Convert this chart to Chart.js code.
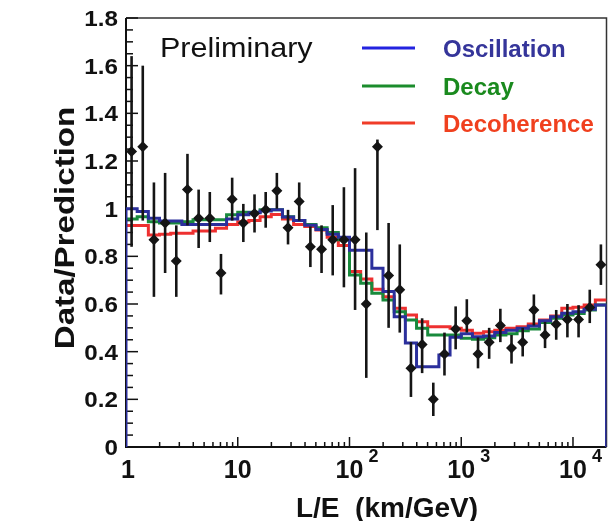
<!DOCTYPE html>
<html>
<head>
<meta charset="utf-8">
<script src="https://cdn.jsdelivr.net/npm/chart.js@4"></script>
<style>
  html, body { margin: 0; padding: 0; background: #fff; }
  #wrap { width: 612px; height: 521px; }
</style>
</head>
<body>
<div id="wrap"><canvas id="myChart" width="612" height="521"></canvas></div>
<script>
// bin edges of the L/E histograms (km/GeV)
var binEdges = [1, 1.259, 1.585, 1.995, 2.512, 3.162, 3.981, 5.012, 6.310, 7.943,
  10, 12.59, 15.85, 19.95, 25.12, 31.62, 39.81, 50.12, 63.10, 79.43,
  100, 125.9, 158.5, 199.5, 251.2, 316.2, 398.1, 501.2, 631.0, 794.3,
  1000, 1259, 1585, 1995, 2512, 3162, 3981, 5012, 6310, 7943,
  10000, 12590, 15850, 19950];

// expectation / prediction per bin
var oscillation = [1.00, 0.988, 0.96, 0.948, 0.948, 0.934, 0.934, 0.934, 0.934, 0.957,
  0.975, 0.983, 0.99, 0.995, 0.965, 0.95, 0.93, 0.913, 0.893, 0.88,
  0.826, 0.826, 0.75, 0.652, 0.547, 0.436, 0.337, 0.337, 0.386, 0.46,
  0.475, 0.463, 0.466, 0.48, 0.49, 0.498, 0.508, 0.53, 0.547, 0.561,
  0.568, 0.578, 0.596];
var decay = [0.957, 0.966, 0.945, 0.94, 0.94, 0.945, 0.953, 0.953, 0.953, 0.974,
  0.985, 0.985, 0.995, 0.995, 0.966, 0.95, 0.934, 0.92, 0.90, 0.87,
  0.722, 0.687, 0.645, 0.617, 0.568, 0.533, 0.498, 0.47, 0.47, 0.47,
  0.456, 0.452, 0.458, 0.47, 0.475, 0.488, 0.495, 0.522, 0.54, 0.554,
  0.56, 0.575, 0.596];
var decoherence = [0.929, 0.929, 0.89, 0.893, 0.897, 0.897, 0.906, 0.906, 0.918, 0.934,
  0.945, 0.95, 0.966, 0.976, 0.957, 0.934, 0.925, 0.91, 0.88, 0.845,
  0.736, 0.705, 0.662, 0.63, 0.582, 0.554, 0.526, 0.505, 0.505, 0.498,
  0.49, 0.477, 0.484, 0.49, 0.498, 0.505, 0.516, 0.533, 0.55, 0.582,
  0.586, 0.596, 0.617];

// data points
var pointLE = [1.122, 1.413, 1.778, 2.239, 2.818, 3.548, 4.467, 5.623, 7.079, 8.913,
  11.22, 14.13, 17.78, 22.39, 28.18, 35.48, 44.67, 56.23, 70.79, 89.13,
  112.2, 141.3, 177.8, 223.9, 281.8, 354.8, 446.7, 562.3, 707.9, 891.3,
  1122, 1413, 1778, 2239, 2818, 3548, 4467, 5623, 7079, 8913,
  11220, 14130, 17780];
var ratio = [1.24, 1.26, 0.87, 0.94, 0.78, 1.08, 0.96, 0.96, 0.73, 1.04,
  0.94, 0.98, 0.995, 1.075, 0.92, 1.03, 0.84, 0.83, 0.87, 0.87,
  0.87, 0.60, 1.26, 0.72, 0.66, 0.33, 0.43, 0.20, 0.39, 0.495,
  0.53, 0.39, 0.44, 0.51, 0.415, 0.44, 0.575, 0.47, 0.515, 0.535,
  0.535, 0.585, 0.765];
var errLow = [0.84, 0.95, 0.63, 0.73, 0.63, 0.93, 0.835, 0.86, 0.64, 0.95,
  0.86, 0.90, 0.92, 1.00, 0.85, 0.95, 0.755, 0.73, 0.72, 0.67,
  0.575, 0.29, 0.91, 0.50, 0.48, 0.21, 0.31, 0.13, 0.30, 0.41,
  0.48, 0.33, 0.37, 0.44, 0.35, 0.38, 0.51, 0.415, 0.45, 0.46,
  0.46, 0.52, 0.68];
var errHigh = [1.64, 1.60, 1.11, 1.15, 0.93, 1.23, 1.08, 1.07, 0.81, 1.13,
  1.02, 1.06, 1.07, 1.15, 0.995, 1.11, 0.925, 0.93, 1.015, 1.09,
  1.17, 0.90, 1.29, 0.94, 0.85, 0.44, 0.54, 0.27, 0.48, 0.59,
  0.62, 0.46, 0.50, 0.58, 0.47, 0.50, 0.64, 0.525, 0.575, 0.60,
  0.595, 0.66, 0.85];

// axis ticks
var yTicks = [0, 0.2, 0.4, 0.6, 0.8, 1, 1.2, 1.4, 1.6, 1.8];
var yTickLabels = ['0', '0.2', '0.4', '0.6', '0.8', '1', '1.2', '1.4', '1.6', '1.8'];
var xTicks = [1, 10, 100, 1000, 10000];
var xTickBase = ['1', '10', '10', '10', '10'];
var xTickExp = ['', '', '2', '3', '4'];

var legendNames = ['Oscillation', 'Decay', 'Decoherence'];
var legendLine = ['#2323e0', '#1b8c2c', '#f03c28'];
var legendText = ['#35359a', '#1a8a1e', '#f0401e'];

function histData(vals, closeToZero) {
  var d = [];
  if (closeToZero) d.push({ x: binEdges[0], y: 0 });
  for (var i = 0; i < vals.length; i++) d.push({ x: binEdges[i], y: vals[i] });
  d.push({ x: binEdges[vals.length], y: vals[vals.length - 1] });
  if (closeToZero) d.push({ x: binEdges[vals.length], y: 0 });
  return d;
}

var points = pointLE.map(function (x, i) { return { x: x, y: ratio[i] }; });

function txt(ctx, s, x, y, font, color, align, sx) {
  ctx.save();
  ctx.font = font;
  ctx.fillStyle = color;
  ctx.textAlign = align;
  ctx.textBaseline = 'alphabetic';
  ctx.translate(x, y);
  ctx.scale(sx || 1, 1);
  ctx.fillText(s, 0, 0);
  ctx.restore();
}

var decor = {
  id: 'decor',
  beforeDatasetsDraw: function (chart) {
    var ctx = chart.ctx, a = chart.chartArea;
    var xs = chart.scales.x, ys = chart.scales.y;
    ctx.save();
    // frame
    ctx.strokeStyle = '#333';
    ctx.lineWidth = 1.5;
    ctx.beginPath();
    ctx.moveTo(a.left, a.top); ctx.lineTo(a.right, a.top); ctx.lineTo(a.right, a.bottom);
    ctx.stroke();
    ctx.strokeStyle = '#111';
    ctx.lineWidth = 2;
    ctx.beginPath();
    ctx.moveTo(a.left, a.top); ctx.lineTo(a.left, a.bottom); ctx.lineTo(a.right, a.bottom);
    ctx.stroke();
    // y ticks, inward
    ctx.lineWidth = 1.5;
    for (var v = 0; v <= 36; v++) {
      var py = ys.getPixelForValue(v * 0.05);
      var len = (v % 4 === 0) ? 12 : 7;
      ctx.beginPath(); ctx.moveTo(a.left, py); ctx.lineTo(a.left + len, py); ctx.stroke();
    }
    // x ticks, inward
    for (var d = 0; d < xTicks.length; d++) {
      for (var m = 1; m <= 9; m++) {
        var val = xTicks[d] * m;
        if (val > xs.max) break;
        var px = xs.getPixelForValue(val);
        var l = (m === 1) ? 10 : 5;
        ctx.beginPath(); ctx.moveTo(px, a.bottom); ctx.lineTo(px, a.bottom - l); ctx.stroke();
      }
    }
    ctx.restore();
  },
  afterDatasetsDraw: function (chart) {
    var ctx = chart.ctx;
    var xs = chart.scales.x, ys = chart.scales.y;
    ctx.save();
    ctx.strokeStyle = '#151515';
    ctx.lineWidth = 2.6;
    for (var i = 0; i < pointLE.length; i++) {
      var px = xs.getPixelForValue(pointLE[i]);
      ctx.beginPath();
      ctx.moveTo(px, ys.getPixelForValue(errLow[i]));
      ctx.lineTo(px, ys.getPixelForValue(errHigh[i]));
      ctx.stroke();
    }
    ctx.restore();
  },
  afterDraw: function (chart) {
    var ctx = chart.ctx;
    var xs = chart.scales.x, ys = chart.scales.y;
    var bold = 'bold 22px "Liberation Sans", Arial, sans-serif';
    // y tick labels
    for (var i = 0; i < yTicks.length; i++) {
      txt(ctx, yTickLabels[i], 118, ys.getPixelForValue(yTicks[i]) + 8, bold, '#111', 'right', 1.1);
    }
    // x tick labels
    for (var j = 0; j < xTicks.length; j++) {
      var px = xs.getPixelForValue(xTicks[j]);
      if (j === 0) px += 2;
      txt(ctx, xTickBase[j], px, 478, 'bold 25px "Liberation Sans", Arial, sans-serif', '#111', 'center');
      if (xTickExp[j]) {
        ctx.font = 'bold 25px "Liberation Sans", Arial, sans-serif';
        var w = ctx.measureText(xTickBase[j]).width;
        txt(ctx, xTickExp[j], px + w / 2 + 5, 462, 'bold 18px "Liberation Sans", Arial, sans-serif', '#111', 'left');
      }
    }
    // axis titles
    txt(ctx, 'L/E  (km/GeV)', 387, 517, 'bold 28px "Liberation Sans", Arial, sans-serif', '#111', 'center');
    ctx.save();
    ctx.translate(74, 228);
    ctx.rotate(-Math.PI / 2);
    ctx.scale(1.18, 1);
    ctx.font = 'bold 28px "Liberation Sans", Arial, sans-serif';
    ctx.fillStyle = '#111';
    ctx.textAlign = 'center';
    ctx.fillText('Data/Prediction', 0, 0);
    ctx.restore();
    // Preliminary
    txt(ctx, 'Preliminary', 160, 57, '28px "Liberation Sans", Arial, sans-serif', '#111', 'left', 1.09);
    // legend
    var rows = [48, 86, 123];
    for (var k = 0; k < legendNames.length; k++) {
      ctx.save();
      ctx.strokeStyle = legendLine[k];
      ctx.lineWidth = 3;
      ctx.beginPath(); ctx.moveTo(362, rows[k]); ctx.lineTo(415, rows[k]); ctx.stroke();
      ctx.restore();
      txt(ctx, legendNames[k], 443, rows[k] + 9, 'bold 24px "Liberation Sans", Arial, sans-serif', legendText[k], 'left');
    }
  }
};

var ctx = document.getElementById('myChart');
var myChart = new Chart(ctx, {
  type: 'scatter',
  data: {
    datasets: [
      {
        label: 'Data',
        data: points,
        pointStyle: 'rectRot',
        pointRadius: 5.5,
        backgroundColor: '#151515',
        borderColor: '#151515',
        borderWidth: 0,
        order: 0
      },
      {
        label: 'Oscillation',
        data: histData(oscillation, true),
        showLine: true,
        stepped: true,
        borderColor: '#2b2f9c',
        borderWidth: 3,
        pointRadius: 0,
        fill: false,
        order: 1
      },
      {
        label: 'Decay',
        data: histData(decay, false),
        showLine: true,
        stepped: true,
        borderColor: '#188a3c',
        borderWidth: 3,
        pointRadius: 0,
        fill: false,
        order: 2
      },
      {
        label: 'Decoherence',
        data: histData(decoherence, false),
        showLine: true,
        stepped: true,
        borderColor: '#ee3030',
        borderWidth: 3,
        pointRadius: 0,
        fill: false,
        order: 3
      }
    ]
  },
  options: {
    responsive: false,
    animation: false,
    devicePixelRatio: 1,
    layout: { padding: { top: 18, right: 1, left: 0, bottom: 0 } },
    plugins: { legend: { display: false }, tooltip: { enabled: false } },
    scales: {
      x: {
        type: 'logarithmic',
        min: 1,
        max: 19950,
        grid: { display: false },
        border: { display: false },
        ticks: { display: false },
        afterFit: function (s) { s.height = 74; }
      },
      y: {
        min: 0,
        max: 1.8,
        grid: { display: false },
        border: { display: false },
        ticks: { display: false },
        afterFit: function (s) { s.width = 126; }
      }
    }
  },
  plugins: [decor]
});
</script>
</body>
</html>
